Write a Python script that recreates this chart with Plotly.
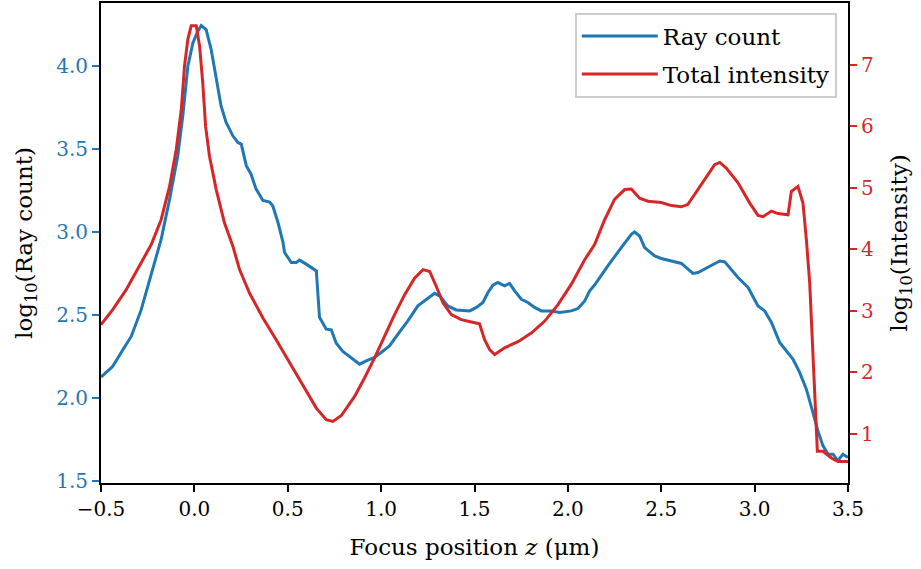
import plotly.graph_objects as go

# Ray count (left axis, log10)
ray_z = [-0.5, -0.437, -0.383, -0.338, -0.285, -0.222, -0.178, -0.133, -0.089, -0.062,
         -0.035, -0.008, 0.018, 0.037, 0.063, 0.09, 0.116, 0.143, 0.17, 0.206,
         0.233, 0.251, 0.278, 0.303, 0.33, 0.367, 0.403, 0.42, 0.447, 0.474,
         0.483, 0.519, 0.546, 0.563, 0.599, 0.653, 0.67, 0.706, 0.733, 0.759,
         0.795, 0.84, 0.885, 0.92, 0.965, 1.0, 1.045, 1.09, 1.143, 1.197,
         1.242, 1.286, 1.313, 1.357, 1.402, 1.474, 1.51, 1.545, 1.572, 1.599,
         1.625, 1.661, 1.688, 1.715, 1.751, 1.786, 1.822, 1.858, 1.911, 1.956,
         2.018, 2.054, 2.09, 2.117, 2.143, 2.17, 2.214, 2.286, 2.34, 2.357,
         2.384, 2.411, 2.465, 2.5, 2.554, 2.608, 2.634, 2.67, 2.697, 2.75,
         2.813, 2.84, 2.875, 2.911, 2.965, 3.0, 3.018, 3.054, 3.09, 3.134,
         3.17, 3.205, 3.241, 3.277, 3.312, 3.339, 3.366, 3.393, 3.42, 3.446,
         3.473, 3.5]
ray_log = [2.125, 2.19, 2.29, 2.37, 2.53, 2.775, 2.955, 3.196, 3.458, 3.70,
           4.0, 4.14, 4.21, 4.245, 4.22, 4.10, 3.92, 3.76, 3.66, 3.58,
           3.54, 3.53, 3.40, 3.35, 3.26, 3.19, 3.18, 3.157, 3.06, 2.94,
           2.876, 2.816, 2.816, 2.83, 2.806, 2.765, 2.485, 2.414, 2.41, 2.33,
           2.28, 2.243, 2.203, 2.223, 2.243, 2.273, 2.313, 2.384, 2.464, 2.554,
           2.594, 2.63, 2.615, 2.554, 2.53, 2.524, 2.545, 2.575, 2.635, 2.679,
           2.695, 2.675, 2.69, 2.645, 2.594, 2.575, 2.545, 2.524, 2.524, 2.514,
           2.524, 2.538, 2.584, 2.645, 2.68, 2.725, 2.795, 2.906, 2.986, 3.0,
           2.976, 2.906, 2.855, 2.84, 2.825, 2.81, 2.785, 2.75, 2.755, 2.785,
           2.825, 2.82, 2.775, 2.725, 2.665, 2.594, 2.554, 2.524, 2.454, 2.334,
           2.283, 2.233, 2.153, 2.052, 1.912, 1.80, 1.71, 1.66, 1.66, 1.62,
           1.66, 1.64]

# Total intensity (right axis, log10)
int_z = [-0.5, -0.437, -0.365, -0.294, -0.231, -0.178, -0.133, -0.097, -0.07, -0.053,
         -0.035, -0.017, 0.01, 0.028, 0.045, 0.06, 0.081, 0.117, 0.161, 0.206,
         0.242, 0.295, 0.367, 0.438, 0.51, 0.581, 0.653, 0.706, 0.742, 0.787,
         0.858, 0.911, 0.965, 1.018, 1.072, 1.126, 1.179, 1.224, 1.26, 1.295,
         1.331, 1.376, 1.429, 1.483, 1.527, 1.554, 1.581, 1.608, 1.661, 1.733,
         1.804, 1.875, 1.947, 2.018, 2.09, 2.143, 2.197, 2.25, 2.304, 2.34,
         2.384, 2.429, 2.5, 2.554, 2.608, 2.643, 2.697, 2.75, 2.786, 2.813,
         2.848, 2.911, 2.974, 3.018, 3.045, 3.09, 3.125, 3.179, 3.197, 3.232,
         3.259, 3.277, 3.295, 3.336, 3.366, 3.411, 3.446, 3.5]
int_log = [2.776, 3.02, 3.345, 3.72, 4.076, 4.48, 5.02, 5.62, 6.27, 6.97,
           7.41, 7.63, 7.63, 7.30, 6.70, 6.0, 5.51, 4.97, 4.43, 4.05,
           3.67, 3.29, 2.885, 2.532, 2.153, 1.80, 1.42, 1.232, 1.205, 1.30,
           1.61, 1.91, 2.235, 2.586, 2.94, 3.263, 3.53, 3.67, 3.64, 3.40,
           3.13, 2.94, 2.857, 2.82, 2.79, 2.53, 2.37, 2.29, 2.40, 2.50,
           2.64, 2.83, 3.10, 3.43, 3.83, 4.076, 4.48, 4.81, 4.97, 4.98,
           4.83, 4.78, 4.76, 4.71, 4.69, 4.73, 4.97, 5.21, 5.375, 5.41,
           5.32, 5.08, 4.75, 4.55, 4.53, 4.62, 4.58, 4.56, 4.94, 5.02,
           4.75, 4.16, 3.45, 0.72, 0.72, 0.61, 0.555, 0.555]

x_ticks = [-0.5, 0.0, 0.5, 1.0, 1.5, 2.0, 2.5, 3.0, 3.5]
x_tick_text = ["\u22120.5", "0.0", "0.5", "1.0", "1.5", "2.0", "2.5", "3.0", "3.5"]
left_ticks = [1.5, 2.0, 2.5, 3.0, 3.5, 4.0]
right_ticks = [1, 2, 3, 4, 5, 6, 7]

BLUE = "#1f77b4"
RED = "#d62728"
FONT = "DejaVu Serif, Liberation Serif, serif"
FS = 20
TFS = 23

fig = go.Figure()
fig.add_trace(go.Scatter(x=ray_z, y=ray_log, mode="lines", name="Ray count",
                         legendgroup="a",
                         line=dict(color=BLUE, width=3), yaxis="y"))
fig.add_trace(go.Scatter(x=int_z, y=int_log, mode="lines", name="Total intensity",
                         legendgroup="b",
                         line=dict(color=RED, width=3), yaxis="y2"))

fig.update_layout(
    width=921, height=569,
    margin=dict(l=101, r=73, t=3, b=86, autoexpand=False),
    paper_bgcolor="white", plot_bgcolor="white",
    font=dict(family=FONT, size=FS, color="black"),
    showlegend=True,
    legend=dict(x=0.985, y=0.98, xanchor="right", yanchor="top",
                bgcolor="rgba(255,255,255,0.8)", bordercolor="#cccccc", borderwidth=2,
                font=dict(family=FONT, size=23, color="black"),
                tracegroupgap=5, itemwidth=76),
    xaxis=dict(range=[-0.5, 3.5], tickvals=x_ticks, ticktext=x_tick_text,
               showgrid=False, zeroline=False, showline=True, linecolor="black",
               linewidth=2, mirror=True, ticks="outside", ticklen=7, tickwidth=1.5,
               tickcolor="black", automargin=True,
               tickfont=dict(family=FONT, size=FS, color="black"),
               title=dict(text="Focus position <i>z</i> (\u03bcm)", standoff=19,
                          font=dict(family=FONT, size=TFS, color="black"))),
    yaxis=dict(range=[1.486, 4.381], tickvals=left_ticks,
               ticktext=["1.5", "2.0", "2.5", "3.0", "3.5", "4.0"],
               showgrid=False, zeroline=False, showline=True, linecolor="black",
               linewidth=2, ticks="outside", ticklen=7, tickwidth=1.5, tickcolor=BLUE,
               automargin=True,
               tickfont=dict(family=FONT, size=FS, color=BLUE),
               title=dict(text="log<sub>10</sub>(Ray count)", standoff=17,
                          font=dict(family=FONT, size=TFS, color="black"))),
    yaxis2=dict(range=[0.204, 8.0], tickvals=right_ticks, overlaying="y", side="right",
                showgrid=False, zeroline=False, showline=True, linecolor="black",
                linewidth=2, ticks="outside", ticklen=7, tickwidth=1.5, tickcolor=RED,
                automargin=True,
                tickfont=dict(family=FONT, size=FS, color=RED),
                title=dict(text="log<sub>10</sub>(Intensity)", standoff=18,
                           font=dict(family=FONT, size=TFS, color="black"))),
)

fig.write_html("out.html", config={"displayModeBar": False},
               post_script="document.body.style.margin='0';")
